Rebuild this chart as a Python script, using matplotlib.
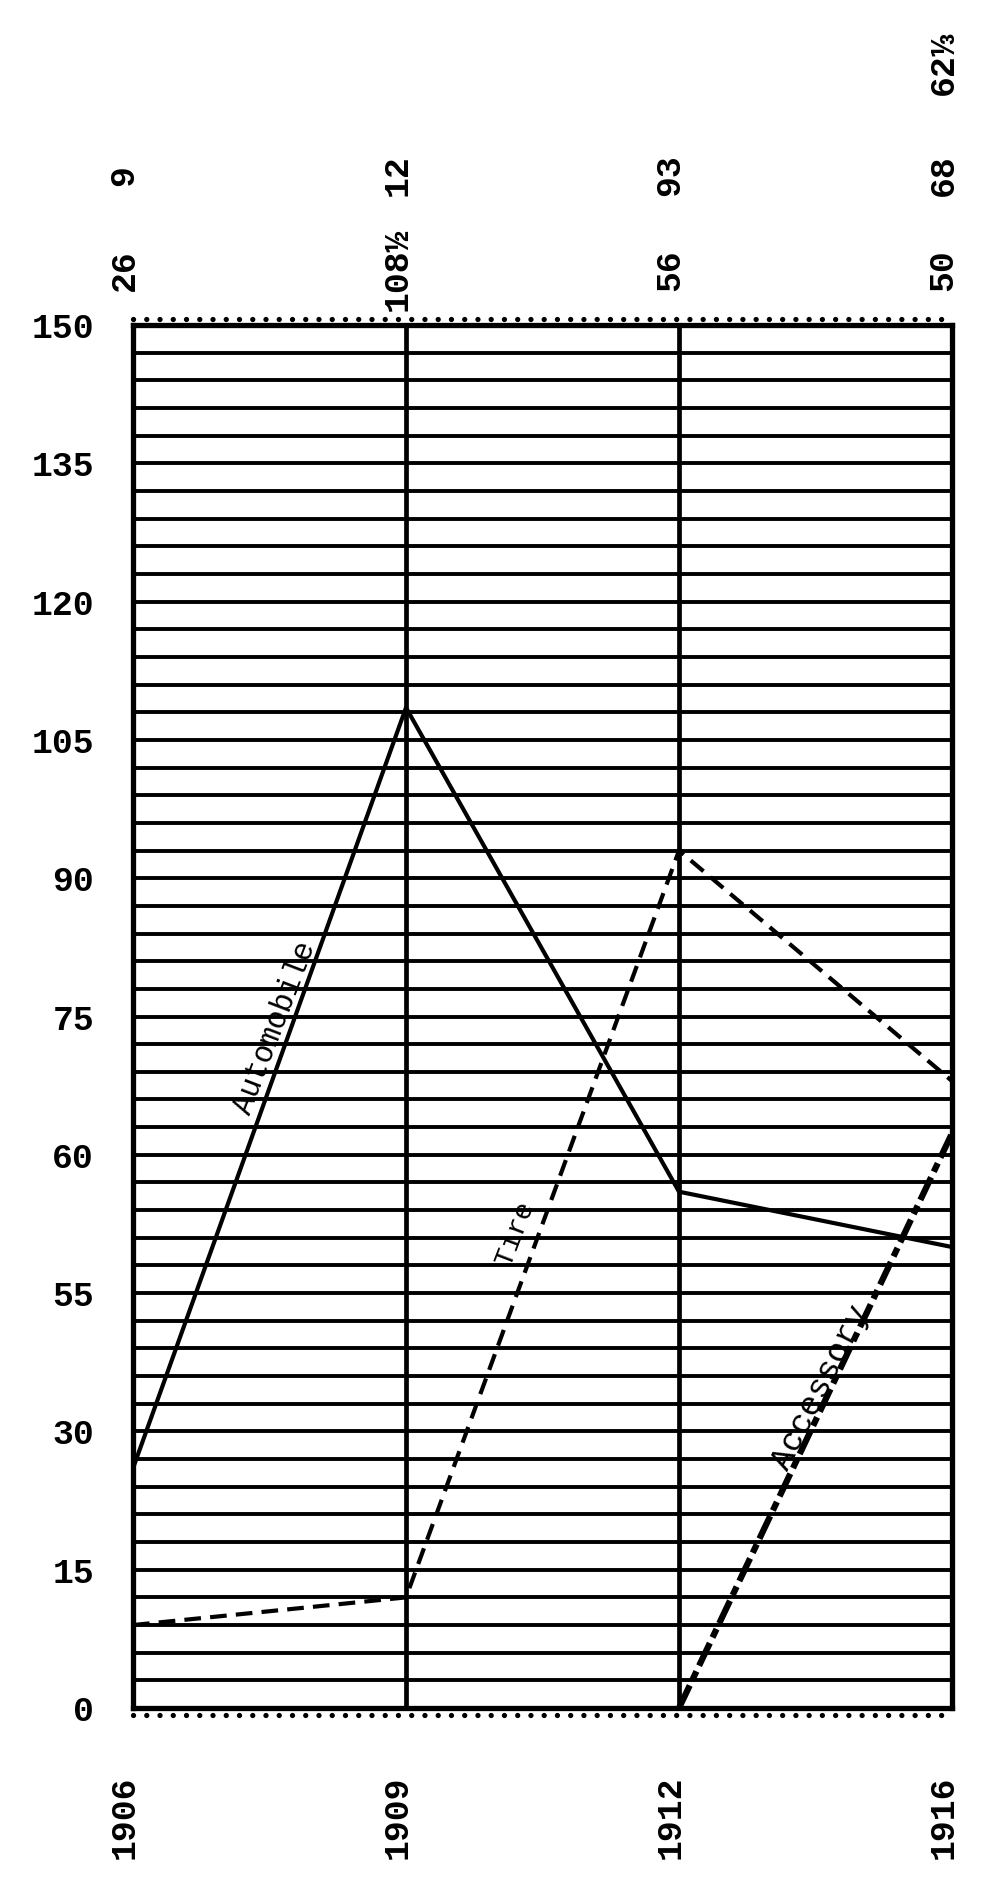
import numpy as np
import matplotlib
matplotlib.use('Agg')
import matplotlib.pyplot as plt
from matplotlib.transforms import offset_copy

# values (equal spacing for the years)
years = ['1906', '1909', '1912', '1916']
automobile = [26, 108.5, 56, 50]
tire = [9, 12, 93, 68]
accessory_years = [2, 3]          # accessory only starts in 1912
accessory = [0, 62.33]
auto_labels = ['26', '108½', '56', '50']
tire_labels = ['9', '12', '93', '68']
acc_labels = ['', '', '', '62⅓']
ytick_vals = [0, 15, 30, 45, 60, 75, 90, 105, 120, 135, 150]
ytick_text = ['0', '15', '30', '55', '60', '75', '90', '105', '120', '135', '150']

mono = ['Liberation Mono', 'DejaVu Sans Mono', 'DejaVu Sans']

fig = plt.figure(figsize=(10, 18.84), dpi=100)
ax = fig.add_axes([0.133, 0.0934, 0.819, 0.7341])
x = np.arange(len(years))
ax.set_xlim(0, 3)
ax.set_ylim(0, 150)

# ruled paper: a line every 3 units
for yv in np.arange(3, 150, 3):
    ax.axhline(yv, color='black', lw=2.8, zorder=1)
for xv in x[1:-1]:
    ax.axvline(xv, color='black', lw=3.4, zorder=1)
for s in ax.spines.values():
    s.set_linewidth(3.8)

# dotted rows just outside top and bottom edges
up = offset_copy(ax.transData, fig=fig, y=6, units='dots')
down = offset_copy(ax.transData, fig=fig, y=-7, units='dots')
ax.plot([0, 3], [150, 150], transform=up, color='black', lw=3.8,
        ls=(0, (0.01, 2.5)), dash_capstyle='round', clip_on=False)
ax.plot([0, 3], [0, 0], transform=down, color='black', lw=3.8,
        ls=(0, (0.01, 2.5)), dash_capstyle='round', clip_on=False)

ax.plot(x, automobile, color='black', lw=3.0, zorder=3)
ax.plot(x, tire, color='black', lw=3.0, ls=(0, (4, 2.2)), zorder=3)
ax.plot(accessory_years, accessory, color='black', lw=4.5,
        ls=(0, (4, 1.0, 1.5, 1.0)), zorder=3)

# line names along the lines
ax.text(0.52, 73.8, 'Automobile', rotation=69, fontsize=22, family=mono,
        ha='center', va='center', zorder=4)
ax.text(1.40, 51.5, 'Tire', rotation=69, fontsize=20, family=mono,
        ha='center', va='center', zorder=4)
ax.text(2.52, 34.7, 'Accessory', rotation=63, fontsize=24, family=mono,
        ha='center', va='center', zorder=4)

# y labels
ax.set_yticks(ytick_vals)
ax.set_yticklabels(ytick_text, family=mono, fontweight='bold', fontsize=25)
ax.tick_params(axis='y', length=0, pad=28)
ax.set_xticks([])

# numbers above the chart and years below
tx = offset_copy(ax.get_xaxis_transform(), fig=fig, x=-9, units='dots')
for i in x:
    ax.text(i, 1.040, auto_labels[i], transform=tx, rotation=90, fontsize=25,
            family=mono, fontweight='bold', ha='center', va='center')
    ax.text(i, 1.108, tire_labels[i], transform=tx, rotation=90, fontsize=25,
            family=mono, fontweight='bold', ha='center', va='center')
    if acc_labels[i]:
        ax.text(i, 1.189, acc_labels[i], transform=tx, rotation=90,
                fontsize=25, family=mono, fontweight='bold',
                ha='center', va='center')
    ax.text(i, -0.079, years[i], transform=tx, rotation=90, fontsize=25,
            family=mono, fontweight='bold', ha='center', va='center')

fig.savefig('out.png', dpi=100)
